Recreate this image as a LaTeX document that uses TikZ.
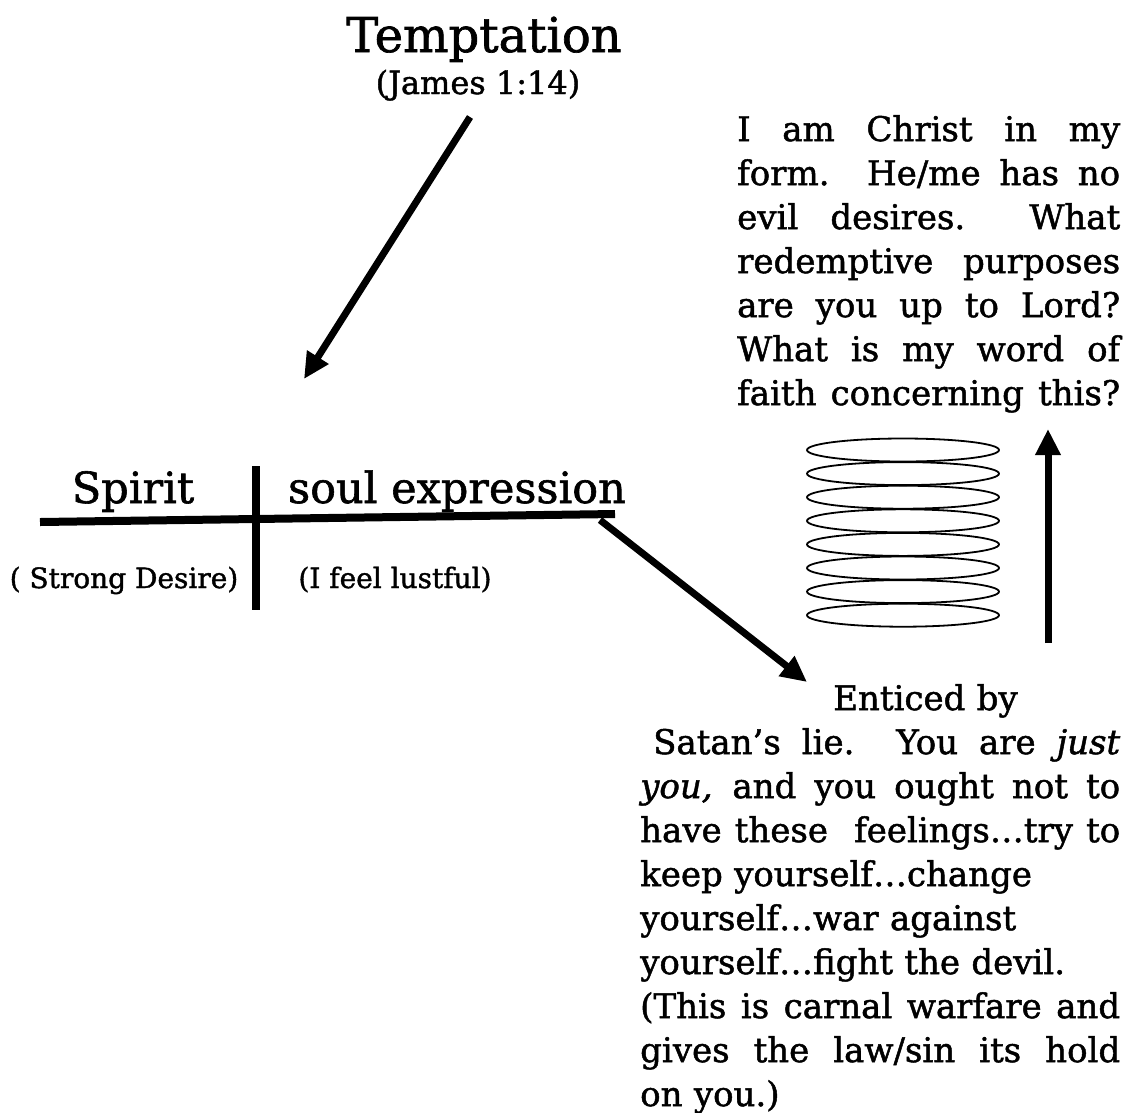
\documentclass[tikz,border=0pt]{standalone}
\usepackage{fontspec}
\setmainfont{DejaVu Serif}[FakeBold=1.4]
\usetikzlibrary{arrows.meta}

\newcommand{\fullline}[1]{\makebox[\hsize][s]{\spaceskip=0.32em plus 1fil\relax #1}}

\tikzset{
  title/.style={inner sep=0pt, anchor=base, font=\fontsize{48}{56}\selectfont},
  heading/.style={inner sep=0pt, anchor=base, font=\fontsize{43}{50}\selectfont},
  note/.style={inner sep=0pt, anchor=base, font=\fontsize{28}{34}\selectfont},
  verse/.style={inner sep=0pt, anchor=base, font=\fontsize{32}{40}\selectfont},
  para/.style={inner sep=0pt, anchor=north west, align=left, font=\fontsize{34}{44}\selectfont},
  bar/.style={line width=8pt},
  bigarrow/.style={line width=7pt, -{Triangle[length=26pt,width=24pt]}},
  coil/.style={line width=1.8pt}
}

\begin{document}
\begin{tikzpicture}[x=1pt, y=-1pt]

  \useasboundingbox (0,0) rectangle (1134,1112);

  % Titles
  \node[title] (tempt) at (484,52) {Temptation};
  \node[verse] (james) at (478,94) {(James 1:14)};

  % Cross
  \coordinate (barL) at (40,522);
  \coordinate (barR) at (615,514);
  \coordinate (postT) at (256,466);
  \coordinate (postB) at (256,610);
  \draw[bar] (barL) -- (barR);
  \draw[bar] (postT) -- (postB);

  \node[heading] (spirit) at (133,503) {Spirit};
  \node[heading] (soul) at (457,503) {soul expression};
  \node[note] (desire) at (124,588) {( Strong Desire)};
  \node[note] (lust) at (395,588) {(I feel lustful)};

  % Arrows
  \coordinate (tmpS) at (470,117);
  \coordinate (tmpE) at (304,379);
  \draw[bigarrow] (tmpS) -- (tmpE);

  \coordinate (satS) at (600,520);
  \coordinate (satE) at (807,682);
  \draw[bigarrow] (satS) -- (satE);

  \coordinate (upS) at (1048,643);
  \coordinate (upE) at (1048,429);
  \draw[bigarrow] (upS) -- (upE);

  % Coil
  \foreach \i in {0,...,7}
    \draw[coil] (903,{450+23.6*\i}) ellipse [x radius=96, y radius=11.5];

  % Texts
  \node[para, text width=383pt] (christ) at (737,115) {%
    \fullline{I am Christ in my}\\
    \fullline{form.\ \ He/me has no}\\
    \fullline{evil desires.\ \ What}\\
    \fullline{redemptive purposes}\\
    \fullline{are you up to Lord?}\\
    \fullline{What is my word of}\\
    \fullline{faith concerning this?}};

  \node[para, text width=480pt] (lie) at (640,684) {%
    \hspace*{193pt}Enticed by\\
    \fullline{\hspace*{13pt}Satan’s lie.\ \ You are \textit{just}}\\
    \fullline{\textit{you,} and you ought not to}\\
    \fullline{have these\ \ feelings…try to}\\
    keep yourself…change\\
    yourself…war against\\
    yourself…fight the devil.\\
    \fullline{(This is carnal warfare and}\\
    \fullline{gives the law/sin its hold}\\
    on you.)};

\end{tikzpicture}
\end{document}
